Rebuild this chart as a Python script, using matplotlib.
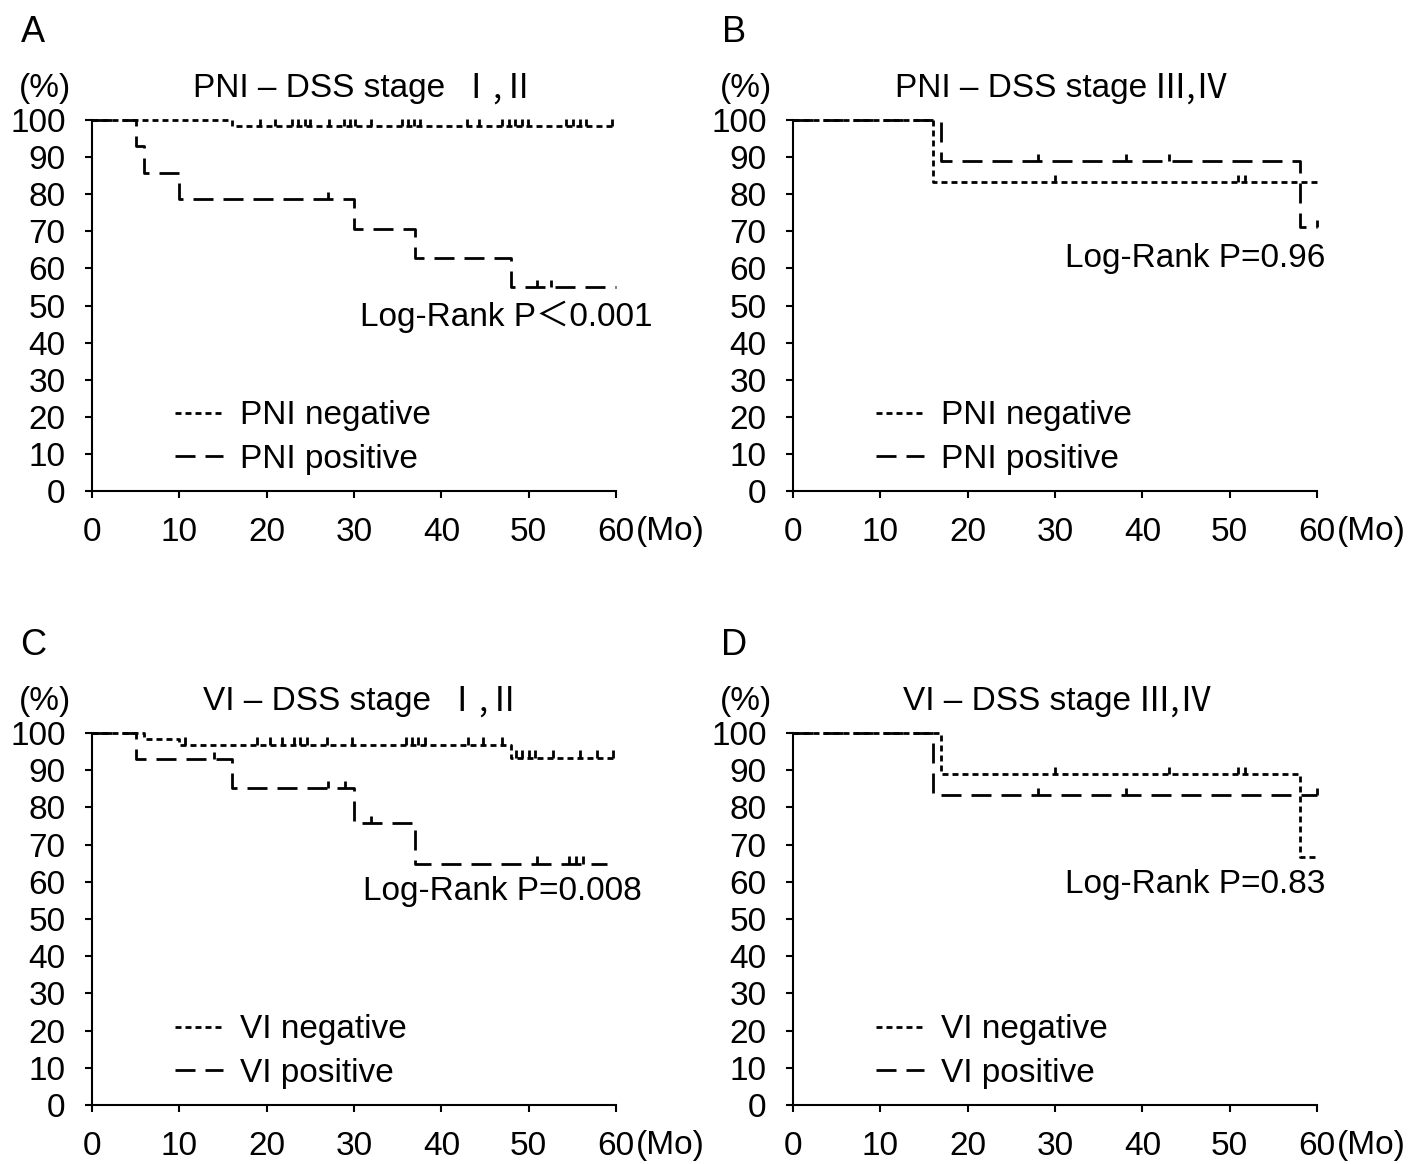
import numpy as np
import matplotlib
matplotlib.use("Agg")
import matplotlib.pyplot as plt

plt.rcParams['font.family'] = ['Liberation Sans', 'Noto Sans CJK JP', 'DejaVu Sans']
plt.rcParams['lines.scale_dashes'] = False

# tempi in mesi, sopravvivenza in %
# A - PNI stage I,II
a_neg_t = [0, 16]
a_neg_s = [100, 98.4]
a_neg_cens = [19.2, 21, 22.9, 23.6, 24.4, 25, 27.1, 28.8, 29.5, 30.1, 32, 35.5, 36.2,
              36.9, 37.6, 42.9, 44.3, 46.9, 47.7, 48.4, 49.2, 49.9, 54.3, 55.1, 55.9, 56.6, 59.5]
a_pos_t = [0, 5, 6, 10, 30, 37, 48]
a_pos_s = [100, 92.9, 85.7, 78.6, 70.7, 62.8, 55.0]
a_pos_cens = [27, 51, 52.6]

# B - PNI stage III,IV
b_neg_t = [0, 16]
b_neg_s = [100, 83.3]
b_neg_cens = [30, 50.9, 51.7]
b_pos_t = [0, 17, 58]
b_pos_s = [100, 88.9, 71.1]
b_pos_cens = [28, 38.1, 43, 60]

# C - VI stage I,II
c_neg_t = [0, 6, 10, 48]
c_neg_s = [100, 98.4, 96.9, 93.4]
c_neg_cens = [10.6, 18.9, 20.4, 21.7, 23.1, 23.8, 24.6, 26.9, 29.8, 35.9, 36.6, 37.3, 38.1,
              43.1, 44.8, 46.9, 48.5, 49.2, 50.0, 50.7, 52.8, 55.9, 57.8, 59.7]
c_pos_t = [0, 5, 16, 30, 37]
c_pos_s = [100, 92.9, 85.1, 75.7, 64.9]
c_pos_cens = [14, 27, 29, 32, 51, 54.6, 55.4, 56.2]

# D - VI stage III,IV
d_neg_t = [0, 17, 58]
d_neg_s = [100, 88.9, 66.7]
d_neg_cens = [30, 43, 50.9, 51.7]
d_pos_t = [0, 16]
d_pos_s = [100, 83.3]
d_pos_cens = [28, 38.1, 60]

ends = {'A': (60, 60), 'B': (60, 60), 'C': (60, 59), 'D': (60, 60)}
letters = ['A', 'B', 'C', 'D']
titles = ['PNI – DSS stage', 'PNI – DSS stage', 'VI – DSS stage', 'VI – DSS stage']
stages = [' Ⅰ,Ⅱ', 'Ⅲ,Ⅳ', ' Ⅰ,Ⅱ', 'Ⅲ,Ⅳ']
title_x = [0.193, 0.195, 0.212, 0.21]
pvals = ['Log-Rank P＜0.001', 'Log-Rank P=0.96', 'Log-Rank P=0.008', 'Log-Rank P=0.83']
ptext_pos = [(47.4, 46.9), (46.1, 62.8), (47.0, 57.3), (46.1, 59.4)]
labels = [('PNI negative', 'PNI positive'), ('PNI negative', 'PNI positive'),
          ('VI negative', 'VI positive'), ('VI negative', 'VI positive')]

curves = [
    (a_neg_t, a_neg_s, a_neg_cens, a_pos_t, a_pos_s, a_pos_cens),
    (b_neg_t, b_neg_s, b_neg_cens, b_pos_t, b_pos_s, b_pos_cens),
    (c_neg_t, c_neg_s, c_neg_cens, c_pos_t, c_pos_s, c_pos_cens),
    (d_neg_t, d_neg_s, d_neg_cens, d_pos_t, d_pos_s, d_pos_cens),
]

SHORT = (4.3, 2.9)
LONG = (14.4, 7.2)
FS = 24


def km(ax, t, s, end, cens, dashes, label):
    x = list(t) + [end]
    y = list(s) + [s[-1]]
    line, = ax.step(x, y, where='post', color='k', lw=2, dashes=dashes,
                    clip_on=False, label=label)
    c = np.array(cens)
    idx = np.searchsorted(t, c, side='right') - 1
    sc = np.array(s)[idx]
    ax.vlines(c, sc, sc + 2.0, color='k', lw=2, clip_on=False)
    return line


fig = plt.figure(figsize=(14.1, 11.64), dpi=100)
W, H = 1410, 1164
# posizioni assi in pixel (x0, y_bottom, larghezza, altezza)
boxes = [(92, 491, 524, 371), (793, 491, 524, 371),
         (92, 1105, 524, 372), (793, 1105, 524, 372)]

for i, (x0, yb, w, h) in enumerate(boxes):
    ax = fig.add_axes([x0 / W, 1 - yb / H, w / W, h / H])
    nt, ns, nc, pt, ps, pc = curves[i]
    e_neg, e_pos = ends[letters[i]]
    l1 = km(ax, nt, ns, e_neg, nc, SHORT, labels[i][0])
    l2 = km(ax, pt, ps, e_pos, pc, LONG, labels[i][1])

    ax.set_xlim(0, 60)
    ax.set_ylim(0, 100)
    ax.set_xticks(np.arange(0, 61, 10))
    ax.set_yticks(np.arange(0, 101, 10))
    ax.spines['top'].set_visible(False)
    ax.spines['right'].set_visible(False)
    ax.spines['left'].set_linewidth(1.5)
    ax.spines['bottom'].set_linewidth(1.5)
    ax.tick_params(axis='both', direction='out', length=5, width=1.5, labelsize=FS)
    ax.tick_params(axis='x', pad=14)
    ax.tick_params(axis='y', pad=14)

    ax.text(1.038, -0.11, '(Mo)', transform=ax.transAxes, ha='left', va='center', fontsize=FS)
    ax.text(-0.09, 1.086, '(%)', transform=ax.transAxes, ha='center', va='center', fontsize=FS)
    t1 = ax.text(title_x[i], 1.086, titles[i], transform=ax.transAxes,
                 ha='left', va='center', fontsize=FS)
    ax.annotate(stages[i], xy=(1, 0.5), xycoords=t1, xytext=(5, 0), textcoords='offset points',
                ha='left', va='center', fontsize=FS,
                family=['Noto Sans CJK JP', 'DejaVu Sans'])
    ax.text(-0.113, 1.235, letters[i], transform=ax.transAxes, ha='center', va='center', fontsize=26)
    ax.text(ptext_pos[i][0], ptext_pos[i][1], pvals[i], ha='center', va='center', fontsize=FS)

    ax.legend(handles=[l1, l2], loc='upper left', bbox_to_anchor=(9.5, 24.4),
              bbox_transform=ax.transData, frameon=False, fontsize=FS,
              handlelength=1.44, handletextpad=0.5, labelspacing=0.38,
              borderpad=0, borderaxespad=0)

fig.savefig('out.png', dpi=100, facecolor='white')
